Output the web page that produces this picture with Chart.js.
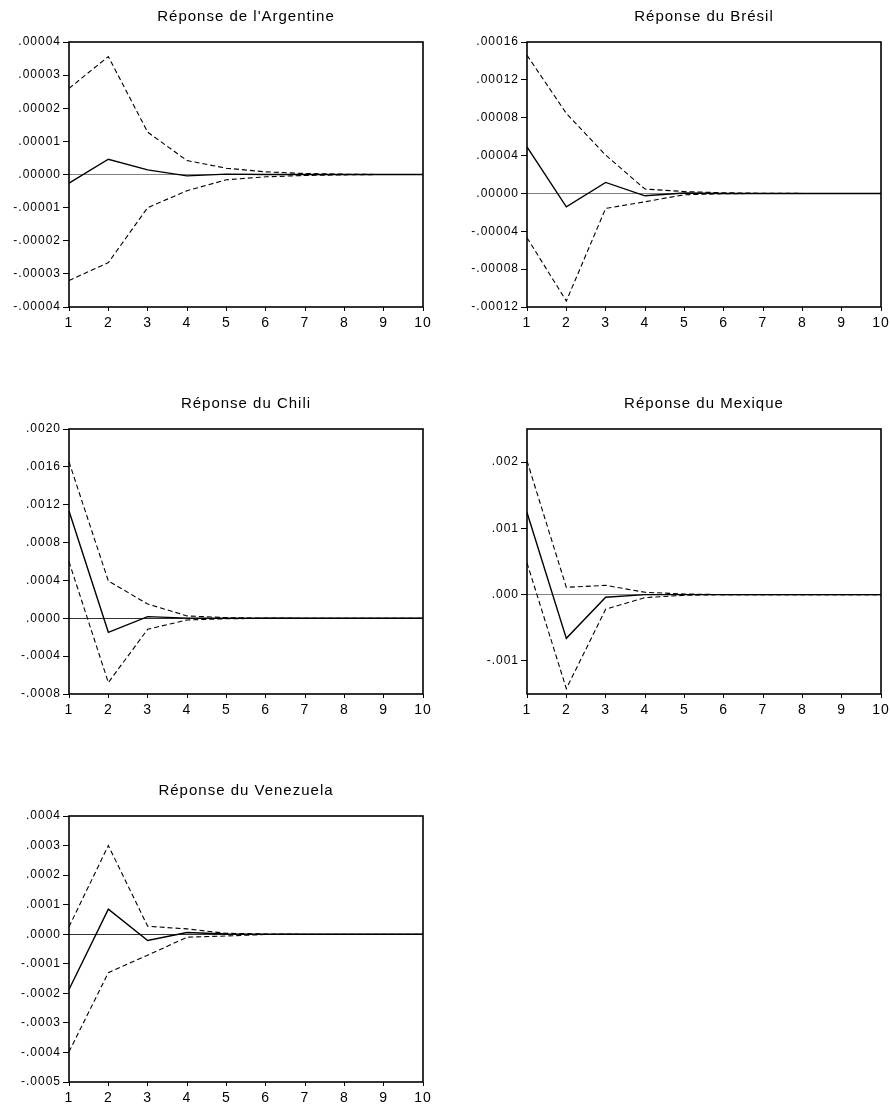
<!DOCTYPE html>
<html>
<head>
<meta charset="utf-8">
<script src="https://cdn.jsdelivr.net/npm/chart.js@4/dist/chart.umd.min.js"></script>
<style>
  body { margin: 0; background: #fff; width: 890px; height: 1106px; overflow: hidden; }
  canvas { position: absolute; }
</style>
</head>
<body>
<canvas id="c1" width="445" height="340" style="left:0;top:0"></canvas>
<canvas id="c2" width="445" height="340" style="left:445px;top:0"></canvas>
<canvas id="c3" width="445" height="340" style="left:0;top:387px"></canvas>
<canvas id="c4" width="445" height="340" style="left:445px;top:387px"></canvas>
<canvas id="c5" width="445" height="341" style="left:0;top:774px"></canvas>
<script>
// Horizons (1 à 10)
const periods = [1, 2, 3, 4, 5, 6, 7, 8, 9, 10];

// Argentine
const argResp  = [-0.0000026, 0.0000046, 0.0000014, -0.0000004, 0.0000001, 0, 0, 0, 0, 0];
const argUpper = [0.0000260, 0.0000356, 0.0000128, 0.0000042, 0.0000019, 0.0000008, 0.0000003, 0.0000001, 0, 0];
const argLower = [-0.0000320, -0.0000266, -0.0000100, -0.0000049, -0.0000016, -0.0000007, -0.0000003, -0.0000001, 0, 0];
const argTicks = [-0.00004, -0.00003, -0.00002, -0.00001, 0, 0.00001, 0.00002, 0.00003, 0.00004];

// Brésil
const braResp  = [0.0000493, -0.0000141, 0.0000116, -0.0000025, 0.0000005, 0, 0, 0, 0, 0];
const braUpper = [0.000146, 0.0000845, 0.0000405, 0.0000046, 0.0000020, 0.0000007, 0.0000002, 0, 0, 0];
const braLower = [-0.0000468, -0.0001137, -0.0000158, -0.0000088, -0.0000014, -0.0000003, 0, 0, 0, 0];
const braTicks = [-0.00012, -0.00008, -0.00004, 0, 0.00004, 0.00008, 0.00012, 0.00016];

// Chili
const chiResp  = [0.001133, -0.000148, 0.000018, 0.000002, 0, 0, 0, 0, 0, 0];
const chiUpper = [0.001653, 0.000394, 0.000151, 0.000025, 0.000007, 0.000002, 0.000001, 0, 0, 0];
const chiLower = [0.000598, -0.000679, -0.000116, -0.000018, -0.000005, -0.000001, 0, 0, 0, 0];
const chiTicks = [-0.0008, -0.0004, 0, 0.0004, 0.0008, 0.0012, 0.0016, 0.0020];

// Mexique
const mexResp  = [0.00124, -0.00066, -0.00004, 0, 0, 0, 0, 0, 0, 0];
const mexUpper = [0.00202, 0.00011, 0.00014, 0.000035, 0.00001, 0, 0, 0, 0, 0];
const mexLower = [0.00048, -0.00142, -0.00022, -0.000045, -0.00001, 0, 0, 0, 0, 0];
const mexTicks = [-0.001, 0, 0.001, 0.002];

// Venezuela
const venResp  = [-0.000187, 0.000085, -0.000021, 0.000006, 0.000001, 0, 0, 0, 0, 0];
const venUpper = [0.000025, 0.000300, 0.000027, 0.000018, 0.000003, 0.000001, 0, 0, 0, 0];
const venLower = [-0.000398, -0.000130, -0.000071, -0.000010, -0.000006, -0.000001, 0, 0, 0, 0];
const venTicks = [-0.0005, -0.0004, -0.0003, -0.0002, -0.0001, 0, 0.0001, 0.0002, 0.0003, 0.0004];

const FONT = "'Liberation Sans', Arial, Helvetica, sans-serif";

// cadre autour de la zone de tracé + espacement des lettres
const framePlugin = {
  id: 'frame',
  beforeDraw(chart) {
    chart.ctx.letterSpacing = '1px';
  },
  afterDatasetsDraw(chart) {
    const a = chart.chartArea, ctx = chart.ctx;
    ctx.save();
    ctx.strokeStyle = '#000';
    ctx.lineWidth = 1.6;
    ctx.strokeRect(a.left, a.top, a.right - a.left, a.bottom - a.top);
    ctx.restore();
  }
};

// format EViews : .00004, -.00001
function fmt(v, dec) {
  return v.toFixed(dec).replace(/^(-?)0\./, '$1.').replace(/^-(\.0+)$/, '$1');
}

function makePanel(id, title, resp, upper, lower, yMin, yMax, yTicks, dec, zeroColor, yAxisW, padRight) {
  const dashed = data => ({
    data, borderColor: '#000', borderWidth: 1.1, borderDash: [5, 3],
    pointRadius: 0, fill: false, tension: 0
  });
  return new Chart(document.getElementById(id), {
    type: 'line',
    data: {
      labels: periods,
      datasets: [
        { data: resp, borderColor: '#000', borderWidth: 1.4, pointRadius: 0, fill: false, tension: 0 },
        dashed(upper),
        dashed(lower)
      ]
    },
    options: {
      responsive: false,
      animation: false,
      layout: { padding: { right: padRight, bottom: 0, top: 0, left: 0 } },
      plugins: {
        legend: { display: false },
        tooltip: { enabled: false },
        title: {
          display: true, text: title, fullSize: false, color: '#000',
          font: { family: FONT, size: 15, weight: 'normal' },
          padding: { top: 8, bottom: 16 }
        }
      },
      scales: {
        x: {
          type: 'category', offset: false,
          border: { display: false },
          grid: { drawOnChartArea: false, tickLength: 4, tickColor: '#000', tickWidth: 1 },
          ticks: { color: '#000', font: { family: FONT, size: 14 }, padding: 4, autoSkip: false, maxRotation: 0 },
          afterFit: s => { s.height = 33; s.paddingLeft = 0; s.paddingRight = 0; }
        },
        y: {
          min: yMin, max: yMax,
          border: { display: false },
          grid: {
            drawOnChartArea: true,
            color: c => (c.tick && c.tick.value === 0 ? zeroColor : 'rgba(0,0,0,0)'),
            lineWidth: 1,
            tickLength: 6, tickColor: '#000', tickWidth: 1
          },
          ticks: {
            color: '#000', font: { family: FONT, size: 12 }, padding: 2,
            callback: v => fmt(v, dec)
          },
          afterBuildTicks: s => { s.ticks = yTicks.map(v => ({ value: v })); },
          afterFit: s => { s.width = yAxisW; }
        }
      }
    },
    plugins: [framePlugin]
  });
}

makePanel('c1', "Réponse de l'Argentine", argResp, argUpper, argLower, -0.00004, 0.00004, argTicks, 5, '#808080', 69, 22);
makePanel('c2', 'Réponse du Brésil', braResp, braUpper, braLower, -0.00012, 0.00016, braTicks, 5, '#808080', 82, 9);
makePanel('c3', 'Réponse du Chili', chiResp, chiUpper, chiLower, -0.0008, 0.0020, chiTicks, 4, '#333', 69, 22);
makePanel('c4', 'Réponse du Mexique', mexResp, mexUpper, mexLower, -0.0015, 0.0025, mexTicks, 3, '#808080', 82, 9);
makePanel('c5', 'Réponse du Venezuela', venResp, venUpper, venLower, -0.0005, 0.0004, venTicks, 4, '#333', 69, 22);
</script>
</body>
</html>
